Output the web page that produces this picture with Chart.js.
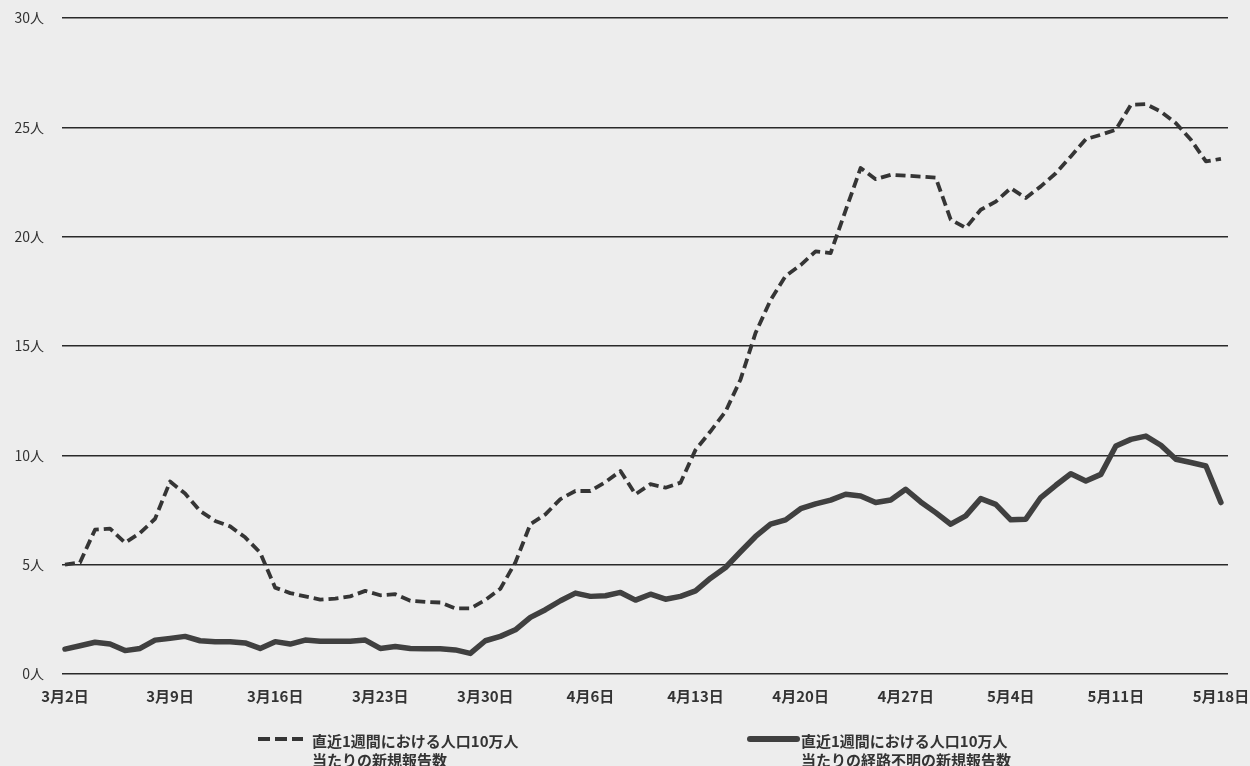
<!DOCTYPE html>
<html lang="ja">
<head>
<meta charset="utf-8">
<script src="https://cdn.jsdelivr.net/npm/chart.js@4.4.1/dist/chart.umd.min.js"></script>
<style>
  html, body { margin: 0; padding: 0; background: #ededed; }
  #wrap { width: 1250px; height: 766px; position: relative; }
  canvas { display: block; }
</style>
</head>
<body>
<div id="wrap"><canvas id="c" width="1250" height="766"></canvas></div>
<script>
// Day index 0 = 3月2日, one value per day through 5月18日 (index 77)
const tickDays = [0, 7, 14, 21, 28, 35, 42, 49, 56, 63, 70, 77];
const tickLabels = ['3月2日', '3月9日', '3月16日', '3月23日', '3月30日', '4月6日',
                    '4月13日', '4月20日', '4月27日', '5月4日', '5月11日', '5月18日'];
const yTicks = [0, 5, 10, 15, 20, 25, 30];

// 直近1週間における人口10万人当たりの新規報告数
const newCasesPer100k = [
  5.0, 5.1, 6.6, 6.65, 6.0, 6.45, 7.1, 8.8, 8.25, 7.45,
  7.0, 6.75, 6.25, 5.55, 3.95, 3.7, 3.55, 3.4, 3.45, 3.55,
  3.8, 3.6, 3.65, 3.35, 3.3, 3.27, 3.0, 3.0, 3.38, 3.9,
  5.1, 6.85, 7.3, 8.0, 8.37, 8.37, 8.78, 9.28, 8.22, 8.68,
  8.52, 8.75, 10.25, 11.1, 12.0, 13.47, 15.6, 17.1, 18.2, 18.7,
  19.33, 19.25, 21.2, 23.14, 22.63, 22.83, 22.79, 22.75, 22.7, 20.78,
  20.4, 21.23, 21.6, 22.22, 21.77, 22.3, 22.9, 23.67, 24.46, 24.66,
  24.89, 26.03, 26.06, 25.72, 25.19, 24.43, 23.44, 23.56
];

// 直近1週間における人口10万人当たりの経路不明の新規報告数
const unknownRoutePer100k = [
  1.14, 1.29, 1.45, 1.37, 1.07, 1.17, 1.55, 1.63, 1.72, 1.52,
  1.48, 1.48, 1.42, 1.17, 1.48, 1.37, 1.55, 1.5, 1.5, 1.5,
  1.55, 1.17, 1.26, 1.17, 1.15, 1.15, 1.1, 0.94, 1.52, 1.72,
  2.02, 2.59, 2.94, 3.35, 3.7, 3.55, 3.58, 3.73, 3.38, 3.65,
  3.42, 3.55, 3.8, 4.38, 4.87, 5.59, 6.29, 6.85, 7.05, 7.56,
  7.78, 7.95, 8.22, 8.14, 7.84, 7.96, 8.45, 7.87, 7.38, 6.85,
  7.23, 8.02, 7.76, 7.05, 7.08, 8.07, 8.63, 9.16, 8.83, 9.13,
  10.43, 10.73, 10.88, 10.46, 9.82, 9.67, 9.51, 7.84
];

const seriesLabels = [
  ['直近1週間における人口10万人', '当たりの新規報告数'],
  ['直近1週間における人口10万人', '当たりの経路不明の新規報告数']
];

const FONT = "'Noto Sans CJK JP', 'Noto Sans', sans-serif";
const INK = '#333333';

const toPoints = arr => arr.map((v, i) => ({ x: i, y: v }));

// Two-line legend drawn under the axis labels
const bottomLegend = {
  id: 'bottomLegend',
  afterDraw(chart) {
    const ctx = chart.ctx;
    const items = [
      { ds: chart.data.datasets[0], x0: 258, x1: 303, tx: 312 },
      { ds: chart.data.datasets[1], x0: 750, x1: 797, tx: 801 }
    ];
    ctx.save();
    items.forEach(it => {
      const ds = it.ds;
      ctx.beginPath();
      ctx.strokeStyle = ds.borderColor;
      ctx.lineWidth = ds.borderWidth + (ds.borderDash ? 0 : 0.5);
      ctx.setLineDash(ds.borderDash ? [12, 5] : []);
      ctx.lineCap = ds.borderDash ? 'butt' : 'round';
      ctx.moveTo(it.x0, 739);
      ctx.lineTo(it.x1, 739);
      ctx.stroke();
      ctx.setLineDash([]);
      ctx.fillStyle = INK;
      ctx.font = 'bold 15px ' + FONT;
      ctx.textAlign = 'left';
      ctx.textBaseline = 'middle';
      ds.label.forEach((line, k) => ctx.fillText(line, it.tx, 741 + k * 19));
    });
    ctx.restore();
  }
};

new Chart(document.getElementById('c'), {
  type: 'line',
  data: {
    datasets: [
      {
        label: seriesLabels[0],
        data: toPoints(newCasesPer100k),
        borderColor: '#353535',
        borderWidth: 3.8,
        borderDash: [10, 5],
        borderCapStyle: 'butt',
        borderJoinStyle: 'round',
        pointRadius: 0,
        tension: 0,
        fill: false
      },
      {
        label: seriesLabels[1],
        data: toPoints(unknownRoutePer100k),
        borderColor: '#404040',
        borderWidth: 5.5,
        borderCapStyle: 'round',
        borderJoinStyle: 'round',
        pointRadius: 0,
        tension: 0,
        fill: false
      }
    ]
  },
  options: {
    responsive: false,
    animation: false,
    layout: { padding: { top: 18, right: 22, left: 0, bottom: 0 } },
    plugins: { legend: { display: false }, tooltip: { enabled: false } },
    scales: {
      x: {
        type: 'linear',
        min: -0.2,
        max: 77.47,
        afterBuildTicks: s => { s.ticks = tickDays.map(v => ({ value: v })); },
        afterFit: s => { s.height = 92; s.paddingLeft = 0; s.paddingRight = 0; },
        ticks: {
          callback: v => tickLabels[tickDays.indexOf(v)],
          autoSkip: false,
          maxRotation: 0,
          padding: 13,
          color: INK,
          font: { family: FONT, size: 15, weight: 'bold' }
        },
        grid: { display: false, drawTicks: false },
        border: { display: false }
      },
      y: {
        min: 0,
        max: 30,
        afterBuildTicks: s => { s.ticks = yTicks.map(v => ({ value: v })); },
        afterFit: s => { s.width = 62; s.paddingTop = 0; s.paddingBottom = 0; },
        ticks: {
          callback: v => v + '人',
          padding: 18,
          color: INK,
          font: { family: FONT, size: 14 }
        },
        grid: { color: '#2a2a2a', lineWidth: 1.6, drawTicks: false },
        border: { display: false }
      }
    }
  },
  plugins: [bottomLegend]
});
</script>
</body>
</html>
